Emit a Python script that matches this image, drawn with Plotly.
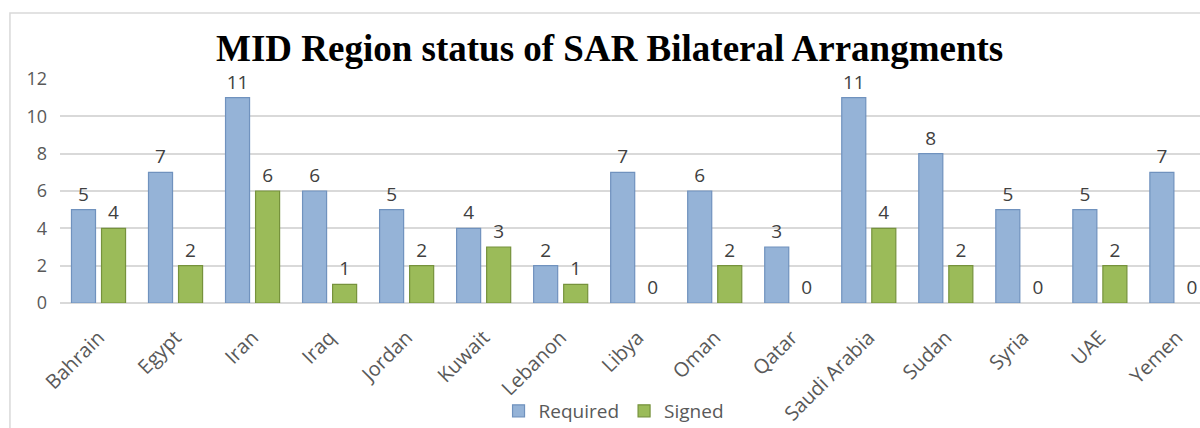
import plotly.graph_objects as go

countries = ["Bahrain", "Egypt", "Iran", "Iraq", "Jordan", "Kuwait", "Lebanon", "Libya",
             "Oman", "Qatar", "Saudi Arabia", "Sudan", "Syria", "UAE", "Yemen"]
required = [5, 7, 11, 6, 5, 4, 2, 7, 6, 3, 11, 8, 5, 5, 7]
signed = [4, 2, 6, 1, 2, 3, 1, 0, 2, 0, 4, 2, 0, 2, 0]
y_ticks = [0, 2, 4, 6, 8, 10, 12]

font_family = "Open Sans, Carlito, Calibri, sans-serif"

fig = go.Figure()
fig.add_trace(go.Bar(
    name="Required", x=countries, y=required,
    marker=dict(color="#95B3D7",
                line=dict(color="#7092BE", width=[1.2 if v > 0 else 0 for v in required])),
    text=required, textposition="outside", cliponaxis=False,
    textfont=dict(size=19, color="#404040", family=font_family),
))
fig.add_trace(go.Bar(
    name="Signed", x=countries, y=signed,
    marker=dict(color="#9BBB59",
                line=dict(color="#76923C", width=[1.2 if v > 0 else 0 for v in signed])),
    text=signed, textposition="outside", cliponaxis=False,
    textfont=dict(size=19, color="#404040", family=font_family),
))

fig.update_layout(
    width=1200, height=428,
    paper_bgcolor="white", plot_bgcolor="white",
    margin=dict(l=60, r=0, t=79, b=125, autoexpand=False),
    barmode="group", bargap=0.22, bargroupgap=0.2,
    title=dict(text="<b>MID Region status of SAR Bilateral Arrangments</b>",
               x=0.508, xanchor="center", y=0.888, yanchor="middle",
               font=dict(family="Liberation Serif, Times New Roman, serif", size=37, color="black")),
    legend=dict(orientation="h", x=0.486, xanchor="center", y=-0.482, yanchor="middle",
                font=dict(family=font_family, size=19, color="#595959"),
                bgcolor="rgba(0,0,0,0)", itemwidth=30, traceorder="normal"),
    showlegend=True,
)
fig.update_xaxes(
    range=[-0.5, 14.3], tickangle=-45, showgrid=False, showline=False, ticks="",
    tickfont=dict(family=font_family, size=20, color="#595959"), automargin=False,
    ticklabelstandoff=18,
)
fig.update_yaxes(
    range=[0, 12], tickvals=y_ticks, showgrid=True, gridcolor="#D9D9D9", gridwidth=1.5,
    zeroline=True, zerolinecolor="#D9D9D9", zerolinewidth=1.5, showline=False,
    tickfont=dict(family=font_family, size=18, color="#595959"), ticklen=0, ticks="",
    ticklabelstandoff=12, automargin=False,
)
fig.add_shape(type="rect", xref="paper", yref="paper",
              x0=-0.0439, x1=1.2, y0=-0.8, y1=1.2946,
              line=dict(color="#D9D9D9", width=1.5), fillcolor="rgba(0,0,0,0)", layer="below")

fig.write_html("out.html", config={"displayModeBar": False},
               post_script="document.body.style.margin='0';document.body.style.overflow='hidden';")
